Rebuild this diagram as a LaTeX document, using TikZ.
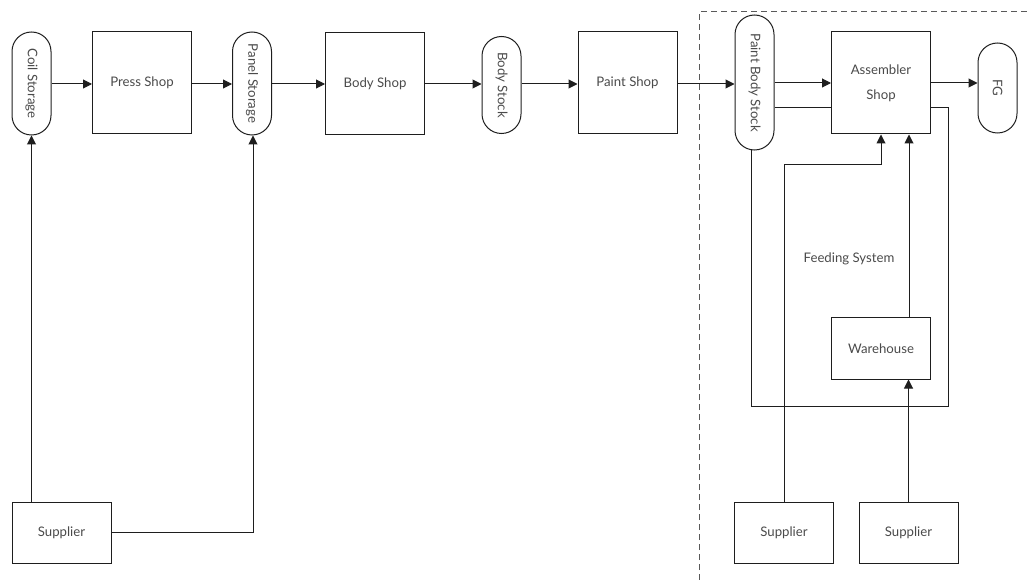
\documentclass[tikz,border=0pt]{standalone}
\usepackage{fontspec}
\setmainfont{Lato}
\usetikzlibrary{arrows.meta}
\definecolor{ink}{HTML}{1E1E1E}
\definecolor{txt}{HTML}{4A4A4A}
\begin{document}
\begin{tikzpicture}[x=1pt,y=-1pt,
  font=\fontsize{13.2}{15}\selectfont, text=txt,
  shop/.style={draw=ink, line width=1pt, minimum width=99pt, minimum height=102pt, align=center, inner sep=0pt},
  small/.style={draw=ink, line width=1pt, minimum width=99pt, minimum height=61pt, inner sep=0pt},
  store/.style={draw=ink, line width=1pt, rounded corners=19.5pt, minimum width=39pt, inner sep=0pt},
  flow/.style={draw=ink, line width=1pt, -{Triangle[length=9pt,width=9pt]}},
  link/.style={draw=ink, line width=1pt},
  zone/.style={draw=black!65, line width=1pt, dash pattern=on 6pt off 4pt}]
\useasboundingbox (0,0) rectangle (1029,580);

% storage buffers (vertical capsules, text reads downwards)
\node[store, minimum height=103pt] (coil) at (31.5,83.5) {};
\node[rotate=-90] (coiltxt) at (coil.center) {Coil Storage};
\node[store, minimum height=103pt] (panel) at (252,83.5) {};
\node[rotate=-90] (paneltxt) at (panel.center) {Panel Storage};
\node[store, minimum height=97pt] (bstock) at (501.5,85) {};
\node[rotate=-90] (bstocktxt) at (bstock.center) {Body Stock};
\node[store, minimum height=135pt] (pbs) at (754.5,82.5) {};
\node[rotate=-90] (pbstxt) at (pbs.center) {Paint Body Stock};
\node[store, minimum height=90pt] (fg) at (997.5,88) {};
\node[rotate=-90] (fgtxt) at (fg.center) {FG};

% shops
\node[shop] (press) at (142,83) {Press Shop};
\node[shop] (body) at (375,83.5) {Body Shop};
\node[shop] (paint) at (627.5,83) {Paint Shop};
\node[shop] (asm) at (881,83) {Assembler\\[10pt]Shop};
\node[small] (wh) at (881,348.5) {Warehouse};

% suppliers
\node[small] (sup0) at (61.5,532.5) {Supplier};
\node[small] (sup1) at (784,532.5) {Supplier};
\node[small] (sup2) at (908.5,532.5) {Supplier};

\node (feed) at (849,259) {Feeding System};

% main production line
\path[flow] (coil.east |- 0,84) -- (press.west |- 0,84);
\path[flow] (press.east |- 0,84) -- (panel.west |- 0,84);
\path[flow] (panel.east |- 0,84) -- (body.west |- 0,84);
\path[flow] (body.east |- 0,84) -- (bstock.west |- 0,84);
\path[flow] (bstock.east |- 0,84) -- (paint.west |- 0,84);
\path[flow] (paint.east |- 0,84) -- (pbs.west |- 0,84);
\path[flow] (pbs.east |- 0,83) -- (asm.west |- 0,83);
\path[flow] (asm.east |- 0,83) -- (fg.west |- 0,83);

% body return loop
\path[link] (pbs.east |- 0,108) -- (asm.west |- 0,108);
\coordinate (loopA) at (948,108);
\coordinate (loopB) at (948,406);
\coordinate (loopC) at (751,406);
\path[link] (asm.east |- 0,108) -- (loopA) -- (loopB) -- (loopC) -- ([xshift=-3.5pt]pbs.south);

% supplies
\path[flow] (sup0.north -| coil.south) -- (coil.south);
\coordinate (p0) at (253,532);
\path[flow] (sup0.east |- p0) -- (p0) -- ([xshift=1pt]panel.south);
\coordinate (p1) at (784,165);
\coordinate (p2) at (881,165);
\path[flow] (sup1.north) -- (p1) -- (p2) -- (asm.south);
\path[flow] (wh.north -| 909,0) -- (asm.south -| 909,0);
\path[flow] (sup2.north) -- (wh.south -| sup2.north);

% boundary of the assembly plant
\coordinate (z0) at (699,580);
\coordinate (z1) at (699,12);
\coordinate (z2) at (1029,12);
\path[zone] (z0) -- (z1) -- (z2);
\end{tikzpicture}
\end{document}
